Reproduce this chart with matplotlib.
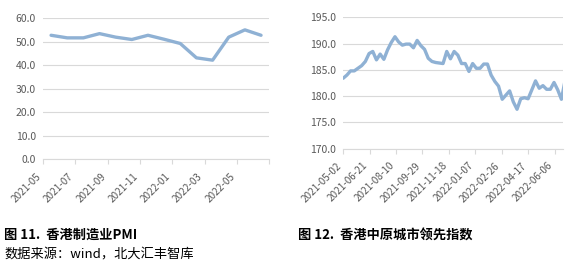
import matplotlib
matplotlib.use('Agg')
import matplotlib.pyplot as plt
import matplotlib.transforms as mtrans
import pandas as pd

plt.rcParams['font.family'] = ['Noto Sans CJK SC', 'DejaVu Sans']

# left chart: Hong Kong manufacturing PMI, monthly
pmi_months = ['2021-05', '2021-06', '2021-07', '2021-08', '2021-09', '2021-10', '2021-11',
              '2021-12', '2022-01', '2022-02', '2022-03', '2022-04', '2022-05', '2022-06']
pmi_values = [52.8, 51.7, 51.7, 53.5, 52.0, 51.0, 52.8, 51.1, 49.3, 43.2, 42.2, 52.0, 55.1, 52.8]
pmi_labels = ['2021-05', '2021-07', '2021-09', '2021-11', '2022-01', '2022-03', '2022-05']

# right chart: Centa-City Leading Index, weekly from 2021-05-02
cci_start = '2021-05-02'
cci_values = [183.4, 184.0, 184.8, 184.8, 185.3, 185.8, 186.6, 188.1, 188.5, 186.9,
              188.0, 187.0, 188.8, 190.2, 191.3, 190.3, 189.7, 189.9, 189.9, 189.2,
              190.6, 189.6, 188.9, 187.2, 186.6, 186.4, 186.3, 186.2, 188.5, 187.1,
              188.5, 187.8, 186.2, 186.2, 184.7, 186.2, 185.3, 185.3, 186.1, 186.1,
              184.0, 182.8, 181.9, 179.4, 180.2, 181.0, 178.9, 177.5, 179.5, 179.7,
              179.5, 181.2, 182.9, 181.5, 182.0, 181.3, 181.3, 182.6, 181.2, 179.4,
              183.0]
cci_labels = ['2021-05-02', '2021-06-21', '2021-08-10', '2021-09-29', '2021-11-18',
              '2022-01-07', '2022-02-26', '2022-04-17', '2022-06-06']

line_color = '#8FB1D4'
grid_color = '#D9D9D9'
text_color = '#595959'

fig = plt.figure(figsize=(5.71, 2.66), dpi=100)

# ---- left
ax1 = fig.add_axes([0.0753, 0.401, 0.396, 0.530])
x1 = range(len(pmi_values))
ax1.plot(x1, pmi_values, color=line_color, lw=2.4, solid_capstyle='round')
ax1.set_xlim(-0.5, len(pmi_values) - 0.5)
ax1.set_ylim(0, 60)
ax1.set_yticks(range(0, 61, 10))
ax1.set_yticklabels([f'{v:.1f}' for v in range(0, 61, 10)])
ax1.set_xticks([i - 0.5 for i in range(0, len(pmi_values) + 1, 2)])
ax1.set_xticklabels(pmi_labels + [''], rotation=45, ha='right')
shift1 = mtrans.ScaledTranslation(12 / 100, 0, fig.dpi_scale_trans)
for lab in ax1.get_xticklabels():
    lab.set_transform(lab.get_transform() + shift1)

# ---- right
ax2 = fig.add_axes([0.601, 0.441, 0.385, 0.494])
dates = pd.date_range(cci_start, periods=len(cci_values), freq='7D')
ax2.plot(dates, cci_values, color=line_color, lw=2.4, solid_capstyle='round')
ax2.set_xlim(pd.Timestamp(cci_start), pd.Timestamp(cci_start) + pd.Timedelta(days=416))
ax2.set_ylim(170, 195)
ax2.set_yticks(range(170, 196, 5))
ax2.set_yticklabels([f'{v:.1f}' for v in range(170, 196, 5)])
ax2.set_xticks(pd.to_datetime(cci_labels))
ax2.set_xticklabels(cci_labels, rotation=45, ha='right')
shift2 = mtrans.ScaledTranslation(5 / 100, 0, fig.dpi_scale_trans)
for lab in ax2.get_xticklabels():
    lab.set_transform(lab.get_transform() + shift2)

for ax in (ax1, ax2):
    for s in ('top', 'right', 'left'):
        ax.spines[s].set_visible(False)
    ax.spines['bottom'].set_color(grid_color)
    ax.yaxis.grid(True, color=grid_color, lw=0.8)
    ax.set_axisbelow(True)
    ax.tick_params(axis='y', length=0, labelsize=7.5, colors=text_color, pad=5)
    ax.tick_params(axis='x', length=3.5, color=grid_color, labelsize=7.2,
                   labelcolor=text_color, pad=5)

fig.text(0.007, 0.117, '图 11.  香港制造业PMI', fontsize=9.5, fontweight='bold',
         color='black', va='center')
fig.text(0.007, 0.041, '数据来源：wind，北大汇丰智库', fontsize=9.5, color='black', va='center')
fig.text(0.522, 0.113, '图 12.  香港中原城市领先指数', fontsize=9.5, fontweight='bold',
         color='black', va='center')

fig.savefig('out.png', dpi=100)
